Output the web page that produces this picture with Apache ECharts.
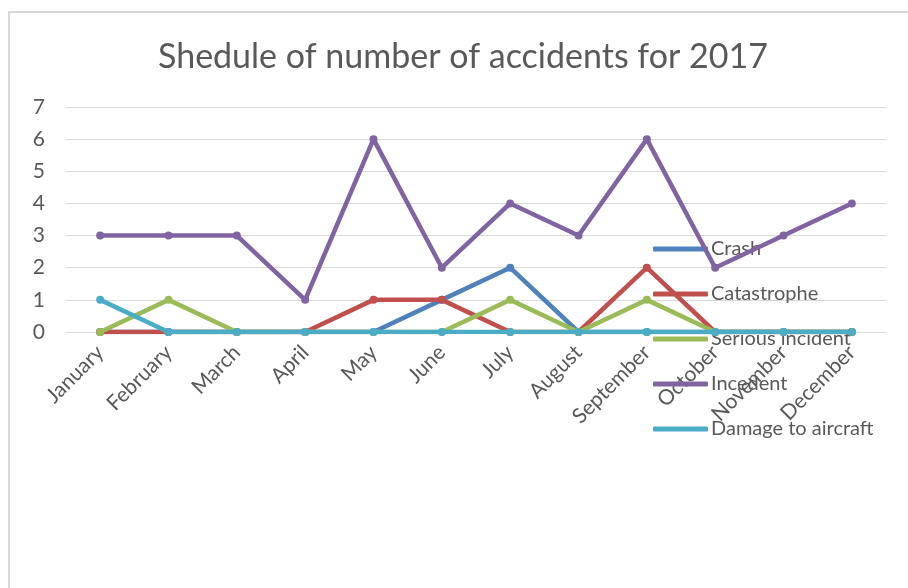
<!DOCTYPE html>
<html>
<head>
<meta charset="utf-8">
<script src="https://cdn.jsdelivr.net/npm/echarts@6/dist/echarts.min.js"></script>
<style>
html,body{margin:0;padding:0;background:#fff;}
#chart{width:908px;height:588px;}
</style>
</head>
<body>
<div id="chart"></div>
<script>
const months = ['January','February','March','April','May','June','July','August','September','October','November','December'];
const crash = [0,0,0,0,0,1,2,0,0,0,0,0];
const catastrophe = [0,0,0,0,1,1,0,0,2,0,0,0];
const seriousIncident = [0,1,0,0,0,0,1,0,1,0,0,0];
const incedent = [3,3,3,1,6,2,4,3,6,2,3,4];
const damageToAircraft = [1,0,0,0,0,0,0,0,0,0,0,0];
const yTicks = [0,1,2,3,4,5,6,7];

const names = ['Crash','Catastrophe','Serious incident','Incedent','Damage to aircraft'];
const values = [crash, catastrophe, seriousIncident, incedent, damageToAircraft];
const colors = ['#4F81BD','#C0504D','#9BBB59','#8064A2','#4BACC6'];
const FONT = 'Lato';
const TXT = '#595959';

const chart = echarts.init(document.getElementById('chart'));
chart.setOption({
  animation: false,
  color: colors,
  textStyle: {fontFamily: FONT},
  title: {
    text: 'Shedule of number of accidents for 2017',
    left: 158,
    top: 40,
    padding: 0,
    textStyle: {fontFamily: FONT, fontSize: 34, fontWeight: 'normal', color: TXT}
  },
  graphic: [{
    type: 'rect', silent: true, z: -1,
    shape: {x: 9, y: 12, width: 1000, height: 1000},
    style: {fill: 'none', stroke: '#d9d9d9', lineWidth: 2}
  }],
  legend: {
    orient: 'vertical',
    left: 653,
    top: 239,
    icon: 'roundRect',
    itemWidth: 55,
    itemHeight: 5,
    itemGap: 25,
    padding: 0,
    data: names,
    textStyle: {fontFamily: FONT, fontSize: 20, lineHeight: 20, color: TXT, padding: [0,0,0,-2]}
  },
  grid: {left: 66, right: 22, top: 107, bottom: 256, containLabel: false},
  xAxis: {
    type: 'category',
    data: months,
    boundaryGap: true,
    axisLine: {show: true, lineStyle: {color: '#d9d9d9', width: 1}},
    axisTick: {show: false},
    axisLabel: {rotate: 45, margin: 17, fontSize: 21, color: TXT, fontFamily: FONT, interval: 0}
  },
  yAxis: {
    type: 'value',
    min: yTicks[0],
    max: yTicks[yTicks.length-1],
    interval: 1,
    axisLine: {show: false},
    axisTick: {show: false},
    splitLine: {lineStyle: {color: '#d9d9d9', width: 1}},
    axisLabel: {margin: 21, fontSize: 21, color: TXT, fontFamily: FONT}
  },
  series: names.map((n, i) => ({
    name: n,
    type: 'line',
    data: values[i],
    symbol: 'circle',
    symbolSize: 8,
    showSymbol: true,
    lineStyle: {width: 4.5, color: colors[i]},
    itemStyle: {color: colors[i]},
    z: 2 + i
  }))
});
</script>
</body>
</html>
